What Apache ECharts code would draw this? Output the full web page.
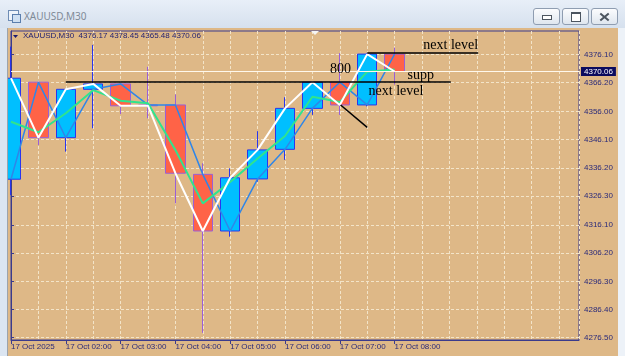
<!DOCTYPE html>
<html><head><meta charset="utf-8">
<script src="https://cdn.jsdelivr.net/npm/echarts@6/dist/echarts.min.js"></script>
<style>
html,body{margin:0;padding:0;width:625px;height:356px;overflow:hidden;background:#dbe5f1;}
#title{position:absolute;left:0;top:0;width:625px;height:28px;background:linear-gradient(#e8eff8,#d6e1ee);}
#ttext{position:absolute;left:24px;top:9px;font:10px "Noto Sans";color:#7f8a97;white-space:nowrap;}
#icon{position:absolute;left:8px;top:10px;width:9px;height:9px;border:1px solid #6f8db5;background:#eef4fb;}
#icon2{position:absolute;left:12px;top:14px;width:7px;height:7px;border:1px solid #5b7fae;background:#cfe0f2;}
.btn{position:absolute;top:8px;width:25px;height:15px;border:1px solid #8f9db1;border-radius:3px;background:linear-gradient(#fbfcfe,#dfe6ef);}
#b1{left:533px}#b2{left:562px}#b3{left:591px}
#m1{position:absolute;left:8px;top:6px;width:8px;height:3px;border:1px solid #4c5560;background:#fff;}
#m2{position:absolute;left:8px;top:3px;width:8px;height:7px;border:1px solid #4c5560;border-top-width:2px;background:#fff;}
.x{position:absolute;left:7px;top:7px;width:11px;height:2px;background:#4c5560;}
#lline{position:absolute;left:7px;top:28px;width:1px;height:328px;background:#9ca3ab;}
#rstrip{position:absolute;left:618px;top:28px;width:7px;height:328px;background:#edf2f8;}
#chart{position:absolute;left:8px;top:28px;width:610px;height:328px;}
</style></head>
<body>
<div id="title"><div id="icon"></div><div id="icon2"></div><div id="ttext">XAUUSD,M30</div>
<div class="btn" id="b1"><div id="m1"></div></div>
<div class="btn" id="b2"><div id="m2"></div></div>
<div class="btn" id="b3"><div class="x" style="transform:rotate(40deg)"></div><div class="x" style="transform:rotate(-40deg)"></div></div>
</div>
<div id="lline"></div><div id="rstrip"></div>
<div id="chart"></div>
<script>
// ---- data ----
const symbolName = 'XAUUSD,M30';
const xLabels = ['17 Oct 2025','17 Oct 02:00','17 Oct 03:00','17 Oct 04:00','17 Oct 05:00','17 Oct 06:00','17 Oct 07:00','17 Oct 08:00'];
const xLabelBars = [0,2,4,6,8,10,12,14];
const opens  = [4332.2,4366.3,4346.8,4363.8,4365.7,4358.3,4358.3,4333.9,4314.0,4332.3,4342.7,4357.1,4366.3,4358.3,4376.17];
const highs  = [4378.8,4366.4,4363.9,4379.4,4366.0,4371.7,4362.0,4337.8,4336.0,4349.1,4361.0,4366.5,4376.5,4376.6,4378.45];
const lows   = [4326.6,4344.2,4341.9,4350.1,4355.1,4353.6,4323.7,4278.2,4312.0,4331.3,4339.0,4354.8,4354.8,4357.8,4365.48];
const closes = [4367.7,4346.8,4363.8,4365.7,4358.0,4358.0,4334.3,4314.0,4332.7,4342.5,4357.1,4366.3,4358.3,4376.17,4370.06];
const maGreen = [4352.4,4348.7,4355.4,4363.5,4359.8,4358.9,4342.5,4323.7,4331.2,4339.5,4347.4,4361.2,4359.3,4370.0,4370.8];
const yTicks = [4276.50,4286.40,4296.30,4306.20,4316.10,4326.30,4336.20,4346.10,4356.00,4366.20,4376.10];
// annotations (in bar index / price space)
const noteTexts = ['next level','supp','800','next level'];
const noteBar   = [15.05,14.47,11.64,13.05];
const notePrice = [4379.2,4368.6,4370.9,4363.0];
const trendBar1 = [2.0,13.0,12.03];
const trendPx1  = [4366.5,4376.8,4358.3];
const trendBar2 = [16.05,17.05,13.0];
const trendPx2  = [4366.5,4376.8,4350.4];

// ---- chart ----
const X_MAX = 20.73, Y_MIN = 4275.69, Y_MAX = 4384.29;
const NAVY = '#3b3b8c', LBL = '#2a2a7a', GRIDC = '#f3e4c8';
const n = closes.length;
const candleData = opens.map((o,i)=>[i,o,closes[i],lows[i],highs[i]]);
const asLine = arr => arr.map((v,i)=>[i,v]);
const header = symbolName + '  ' + [opens[n-1],highs[n-1],lows[n-1],closes[n-1]].map(v=>v.toFixed(2)).join(' ');

const chart = echarts.init(document.getElementById('chart'));
chart.setOption({
  animation:false,
  backgroundColor:'#DEB887',
  grid:{left:2,top:3,right:39,bottom:16,show:true,borderColor:NAVY,borderWidth:1},
  xAxis:[
    {type:'value',min:0,max:X_MAX,interval:1,
     axisLine:{show:true,lineStyle:{color:NAVY}},axisTick:{show:false},axisLabel:{show:false},
     splitLine:{show:true,lineStyle:{color:GRIDC,type:[3,2],width:1}}},
    {type:'value',min:0,max:X_MAX,position:'bottom',
     axisLine:{show:false},
     axisTick:{show:true,customValues:xLabelBars,length:4,lineStyle:{color:NAVY}},
     axisLabel:{show:true,customValues:xLabelBars,formatter:v=>xLabels[xLabelBars.indexOf(v)],align:'left',margin:3,
       color:LBL,fontSize:8,fontFamily:'Liberation Sans'},
     splitLine:{show:false}}
  ],
  yAxis:{type:'value',position:'right',min:Y_MIN,max:Y_MAX,
    axisLine:{show:true,lineStyle:{color:NAVY}},
    axisTick:{show:true,customValues:yTicks,length:3,lineStyle:{color:NAVY}},
    axisLabel:{customValues:yTicks,formatter:v=>v.toFixed(2),margin:5,color:LBL,fontSize:8,fontFamily:'Liberation Sans'},
    splitLine:{show:true,lineStyle:{color:GRIDC,type:[3,2],width:1}}},
  graphic:[
    {type:'polygon',z:100,shape:{points:[[5,7],[10,7],[7.5,10]]},style:{fill:'#1a1a6e'}},
    {type:'text',z:100,left:15,top:4,style:{text:header,fill:'#1c1c70',font:'8px "Liberation Sans"'}},
    {type:'polygon',z:100,shape:{points:[[303,3],[311,3],[307,7]]},style:{fill:'#f4f4f4'}}
  ],
  series:[
    {type:'candlestick',xAxisIndex:0,data:candleData,barWidth:20,
     itemStyle:{color:'#00BFFF',color0:'#FF6347',borderColor:'#2a35ee',borderColor0:'#9a5fd6',borderWidth:1}},
    {type:'line',xAxisIndex:0,data:asLine(opens),symbol:'none',lineStyle:{color:'#2f86e8',width:1.5},
     markPoint:{symbol:'circle',symbolSize:0,silent:true,
       data:noteTexts.map((t,i)=>({coord:[noteBar[i],notePrice[i]],
         label:{show:true,formatter:t,position:'right',distance:0,color:'#000',fontFamily:'Liberation Serif',fontSize:14}}))}},
    {type:'line',xAxisIndex:0,data:asLine(maGreen),symbol:'none',lineStyle:{color:'#2fe48e',width:2}},
    {type:'line',xAxisIndex:0,data:asLine(closes),symbol:'none',lineStyle:{color:'#ffffff',width:2},
     markLine:{symbol:['none','none'],silent:true,
       data:[
         {yAxis:closes[n-1],lineStyle:{color:'#fff8ec',width:1,type:'solid'},
          label:{show:true,position:'end',distance:2,formatter:closes[n-1].toFixed(2),backgroundColor:'#0b0b5e',
            color:'#ffffff',padding:[1,3,0,3],fontSize:8,fontFamily:'Liberation Sans'}}
       ].concat(trendBar1.map((b,i)=>[
         {coord:[b,trendPx1[i]],lineStyle:{color:'#000',width:1.5,type:'solid'},label:{show:false}},
         {coord:[trendBar2[i],trendPx2[i]]}
       ]))}}
  ]
});
</script>
</body></html>
